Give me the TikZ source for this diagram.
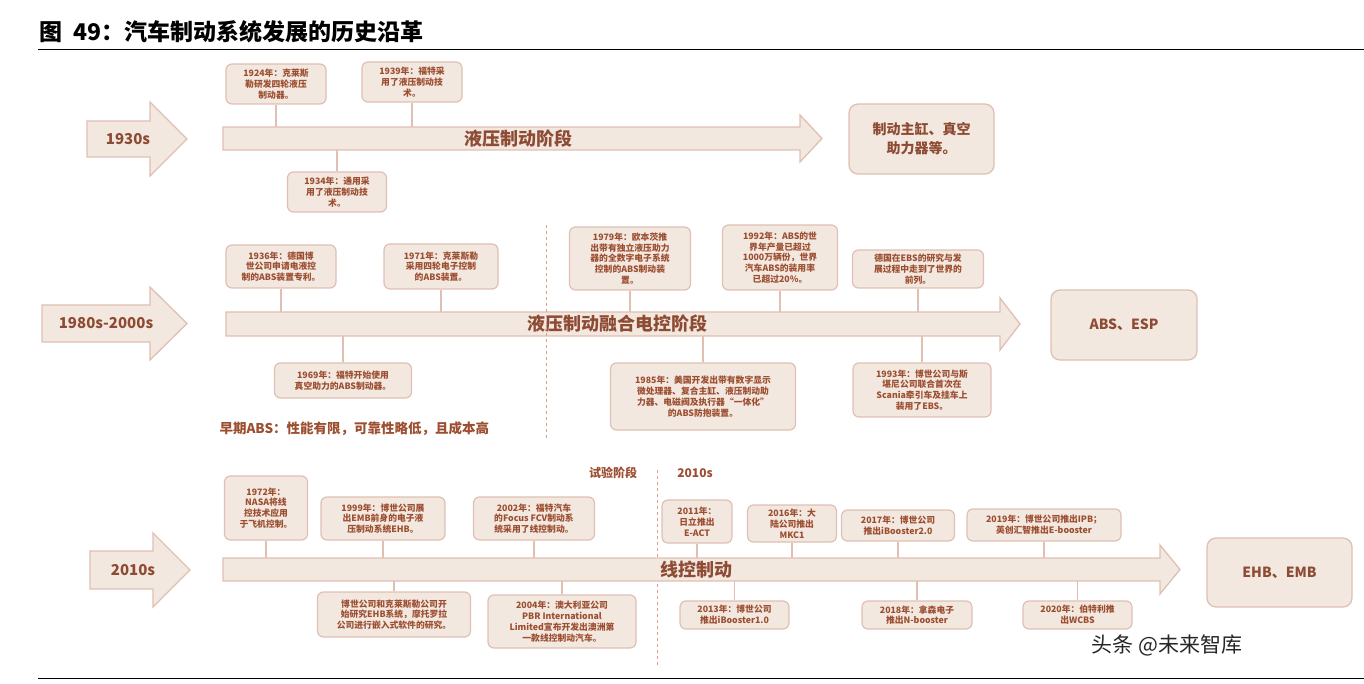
\documentclass[tikz,border=0pt]{standalone}
\usepackage{fontspec}
\setmainfont{Noto Sans CJK SC}
\usetikzlibrary{calc}
\definecolor{bfill}{HTML}{F3E8E0}
\definecolor{bline}{HTML}{DFC0B2}
\definecolor{btext}{HTML}{9C4E30}
\definecolor{atext}{HTML}{8E4B33}
\tikzset{
 ev/.style={draw=bline,fill=bfill,line width=1.2pt,rounded corners=6pt,align=center,text=btext,font=\fontsize{8.8}{10.8}\selectfont\bfseries,inner sep=1pt},
 conn/.style={draw=bline,line width=1.2pt},
 arr/.style={draw=bline,fill=bfill,line width=1.3pt},
 endbox/.style={draw=bline,fill=bfill,line width=1.3pt,rounded corners=9pt,align=center,text=atext,font=\fontsize{14}{19}\selectfont\bfseries},
 tl/.style={text=atext,font=\fontsize{18}{20}\selectfont\bfseries},
 era/.style={text=atext,font=\fontsize{15}{18}\selectfont\bfseries},
 dl/.style={draw=bline!80!red,dashed,line width=0.9pt}
}
\newcommand{\evbox}[6]{\node[ev,minimum width=#4pt,minimum height=#5pt] (#1) at (#2,#3) {#6};}
\begin{document}
\begin{tikzpicture}[x=1pt,y=-1pt]
\useasboundingbox (0,0) rectangle (1364,684);
\node[anchor=west,font=\fontsize{23}{26}\selectfont\bfseries] (title) at (36,32) {图\ \ 49：汽车制动系统发展的历史沿革};
\draw[line width=1pt] (38,50) -- (1364,50);
\draw[line width=1pt] (38,678) -- (1364,678);
% ---------- Row 1
\draw[arr] (87,121)--(150,121)--(150,102)--(187,139)--(150,176)--(150,157)--(87,157)--cycle;
\node[era] (e1) at (128,139) {1930s};
\draw[arr] (223,127)--(800,127)--(800,115)--(822,138.5)--(800,162)--(800,150)--(223,150)--cycle;
\coordinate (t1a) at (0,127); \coordinate (t1b) at (0,150);
\node[tl] (l1) at (518,138.5) {液压制动阶段};
\node[endbox,minimum width=145pt,minimum height=70pt] (r1) at (921.5,139) {制动主缸、真空\\助力器等。};
\evbox{b1924}{276}{84}{100}{40}{1924年：克莱斯\\勒研发四轮液压\\制动器。}
\evbox{b1939}{412}{82}{100}{40}{1939年：福特采\\用了液压制动技\\术。}
\evbox{b1934}{337}{192}{99}{40}{1934年：通用采\\用了液压制动技\\术。}
\draw[conn] (b1924.south) -- (b1924.south |- t1a);
\draw[conn] (b1939.south) -- (b1939.south |- t1a);
\draw[conn] (b1934.north) -- (b1934.north |- t1b);
% ---------- Row 2
\draw[arr] (42,305)--(150,305)--(150,287)--(187,323.5)--(150,360)--(150,342)--(42,342)--cycle;
\node[era] (e2) at (106,323.5) {1980s-2000s};
\draw[arr] (226,312)--(1000,312)--(1000,298)--(1020,324)--(1000,350)--(1000,336)--(226,336)--cycle;
\coordinate (t2a) at (0,312); \coordinate (t2b) at (0,336);
\node[tl] (l2) at (617,324) {液压制动融合电控阶段};
\node[endbox,minimum width=146pt,minimum height=70pt] (r2) at (1124,325) {ABS、ESP};
\evbox{b1936}{281}{266.5}{110}{43}{1936年：德国博\\世公司申请电液控\\制的ABS装置专利。}
\evbox{b1971}{441}{266.5}{114}{45}{1971年：克莱斯勒\\采用四轮电子控制\\的ABS装置。}
\evbox{b1969}{343}{380.5}{137}{35}{1969年：福特开始使用\\真空助力的ABS制动器。}
\evbox{b1979}{630}{258.5}{121}{63}{1979年：欧本茨推\\出带有独立液压助力\\器的全数字电子系统\\控制的ABS制动装\\置。}
\evbox{b1992}{780}{257.5}{115}{65}{1992年：ABS的世\\界年产量已超过\\1000万辆份，世界\\汽车ABS的装用率\\已超过20\%。}
\evbox{bebs}{918}{269}{131}{38}{德国在EBS的研究与发\\展过程中走到了世界的\\前列。}
\evbox{b1985}{703}{396.5}{185}{67}{1985年：美国开发出带有数字显示\\微处理器、复合主缸、液压制动助\\力器、电磁阀及执行器“一体化”\\的ABS防抱装置。}
\evbox{b1993}{922}{390}{138}{54}{1993年：博世公司与斯\\堪尼公司联合首次在\\Scania牵引车及挂车上\\装用了EBS。}
\foreach \n in {b1936,b1971,b1979,b1992,bebs} \draw[conn] (\n.south) -- (\n.south |- t2a);
\foreach \n in {b1969,b1985,b1993} \draw[conn] (\n.north) -- (\n.north |- t2b);
\coordinate (d1a) at (546,225); \coordinate (d1b) at (546,440);
\draw[dl] (d1a) -- (d1b);
\node[anchor=west,text=btext,font=\fontsize{13.5}{16}\selectfont\bfseries] (note) at (216,429) {早期ABS：性能有限，可靠性略低，且成本高};
% ---------- Row 3
\node[text=btext,font=\fontsize{12}{14}\selectfont\bfseries] (sy) at (613,473) {试验阶段};
\node[text=btext,font=\fontsize{12}{14}\selectfont\bfseries] (y10) at (695,473) {2010s};
\coordinate (d2a) at (657,470); \coordinate (d2b) at (657,668);
\draw[dl] (d2a) -- (d2b);
\draw[arr] (90,551)--(153,551)--(153,533)--(190,570)--(153,607)--(153,589)--(90,589)--cycle;
\node[era] (e3) at (133,570) {2010s};
\draw[arr] (223,558)--(1160,558)--(1160,545)--(1180,569.5)--(1160,594)--(1160,581)--(223,581)--cycle;
\coordinate (t3a) at (0,558); \coordinate (t3b) at (0,581);
\node[tl] (l3) at (696,569.5) {线控制动};
\node[endbox,minimum width=145pt,minimum height=69pt] (r3) at (1279.5,572.5) {EHB、EMB};
\evbox{b1972}{266}{508}{83}{64}{1972年：\\NASA将线\\控技术应用\\于飞机控制。}
\evbox{b1999}{383}{518.5}{124}{43}{1999年：博世公司展\\出EMB前身的电子液\\压制动系统EHB。}
\evbox{b2002}{534}{518.5}{121}{43}{2002年：福特汽车\\的Focus FCV制动系\\统采用了线控制动。}
\evbox{bbosch}{394}{614.5}{153}{45}{博世公司和克莱斯勒公司开\\始研究EHB系统，摩托罗拉\\公司进行嵌入式软件的研究。}
\evbox{b2004}{562}{621.5}{148}{53}{2004年：澳大利亚公司\\PBR International\\Limited宣布开发出澳洲第\\一款线控制动汽车。}
\evbox{b2011}{697}{521.5}{70}{43}{2011年：\\日立推出\\E-ACT}
\evbox{b2016}{792}{523.5}{89}{37}{2016年：大\\陆公司推出\\MKC1}
\evbox{b2017}{898}{525.5}{113}{31}{2017年：博世公司\\推出iBooster2.0}
\evbox{b2019}{1044}{525}{154}{32}{2019年：博世公司推出IPB；\\英创汇智推出E-booster}
\evbox{b2013}{734.5}{615}{109}{28}{2013年：博世公司\\推出iBooster1.0}
\evbox{b2018}{917}{615}{110}{28}{2018年：拿森电子\\推出N-booster}
\evbox{b2020}{1077.5}{615}{109}{28}{2020年：伯特利推\\出WCBS}
\foreach \n in {b1972,b1999,b2002,b2011,b2016,b2017,b2019} \draw[conn] (\n.south) -- (\n.south |- t3a);
\foreach \n in {bbosch,b2004,b2013,b2018,b2020} \draw[conn] (\n.north) -- (\n.north |- t3b);
\node[anchor=west,text=black!85,font=\fontsize{21}{24}\selectfont] (wm) at (1088,645) {头条 @未来智库};
\end{tikzpicture}
\end{document}
